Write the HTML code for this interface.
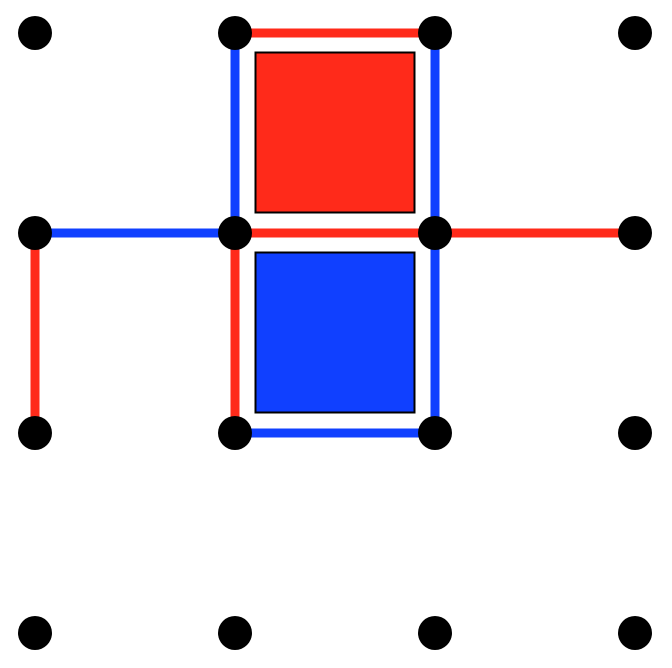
<!DOCTYPE html>
<html>
<head>
<meta charset="utf-8">
<style>
html,body{margin:0;padding:0;background:#fff;}
svg{display:block;}
</style>
</head>
<body>
<svg id="board" width="672" height="668" viewBox="0 0 672 668" xmlns="http://www.w3.org/2000/svg"></svg>
<script>
// grid coordinates (column/row indices)
const cols = [0,1,2,3];
const rows = [0,1,2,3];
// edges: [c1,r1,c2,r2,player]
const edges = [
  [1,0,2,0,'red'],
  [1,0,1,1,'blue'],
  [2,0,2,1,'blue'],
  [2,1,2,2,'blue'],
  [0,1,1,1,'blue'],
  [1,1,2,1,'red'],
  [2,1,3,1,'red'],
  [0,1,0,2,'red'],
  [1,1,1,2,'red'],
  [1,2,2,2,'blue']
];
// claimed boxes: [col,row,player]
const boxes = [
  [1,0,'red'],
  [1,1,'blue']
];
const colors = {red:'#ff2a1a', blue:'#1040ff'};
const sx = c => 35 + c*200;
const sy = r => 33 + r*200;
const NS = 'http://www.w3.org/2000/svg';
const svg = document.getElementById('board');
boxes.forEach(b => {
  const el = document.createElementNS(NS,'rect');
  el.setAttribute('x', sx(b[0])+20.5);
  el.setAttribute('y', sy(b[1])+19.5);
  el.setAttribute('width', 159);
  el.setAttribute('height', 160);
  el.setAttribute('fill', colors[b[2]]);
  el.setAttribute('stroke', '#000');
  el.setAttribute('stroke-width', 2);
  
  
  svg.appendChild(el);
});
edges.forEach(e => {
  const el = document.createElementNS(NS,'line');
  el.setAttribute('x1', sx(e[0]));
  el.setAttribute('y1', sy(e[1]));
  el.setAttribute('x2', sx(e[2]));
  el.setAttribute('y2', sy(e[3]));
  el.setAttribute('stroke', colors[e[4]]);
  el.setAttribute('stroke-width', 9);
  
  
  svg.appendChild(el);
});
rows.forEach(r => cols.forEach(c => {
  const el = document.createElementNS(NS,'circle');
  el.setAttribute('cx', sx(c));
  el.setAttribute('cy', sy(r));
  el.setAttribute('r', 17);
  el.setAttribute('fill', '#000');
  
  
  svg.appendChild(el);
}));
</script>
</body>
</html>
